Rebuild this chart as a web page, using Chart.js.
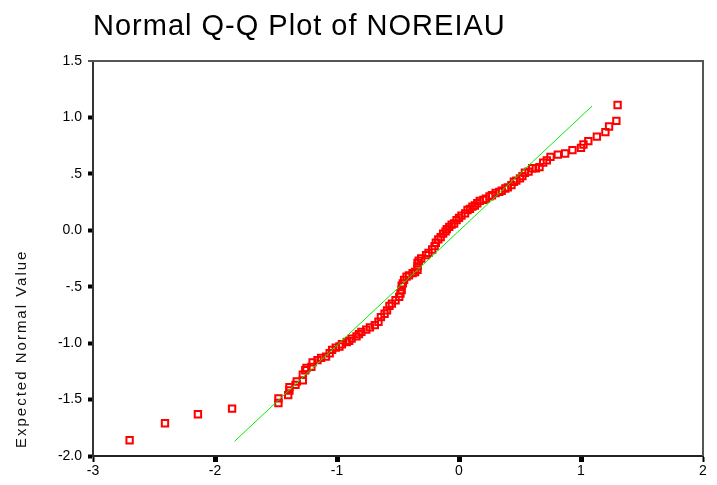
<!DOCTYPE html>
<html>
<head>
<meta charset="utf-8">
<script src="https://cdn.jsdelivr.net/npm/chart.js@4.4.0/dist/chart.umd.min.js"></script>
<style>
  html, body { margin: 0; padding: 0; background: #fff; }
</style>
</head>
<body>
<canvas id="qq" width="717" height="485"></canvas>
<script>
var obsX = [-2.70, -2.41, -2.14, -1.86, -1.48, -1.48, -1.40, -1.39, -1.39, -1.34,
            -1.33, -1.28, -1.28, -1.26, -1.25, -1.21, -1.20, -1.16, -1.13, -1.09,
            -1.06, -1.04, -1.01, -0.98, -0.96, -0.92, -0.90, -0.88, -0.84, -0.82,
            -0.80, -0.76, -0.73, -0.69, -0.66, -0.64, -0.61, -0.59, -0.57, -0.55,
            -0.52, -0.49, -0.48, -0.47, -0.47, -0.46, -0.45, -0.43, -0.41, -0.38,
            -0.36, -0.34, -0.34, -0.34, -0.33, -0.31, -0.27, -0.25, -0.22, -0.20,
            -0.19, -0.17, -0.15, -0.13, -0.11, -0.10, -0.08, -0.06, -0.04, -0.02,
             0.00,  0.02,  0.05,  0.07,  0.09,  0.11,  0.13,  0.15,  0.17,  0.20,
             0.22,  0.25,  0.27,  0.30,  0.33,  0.35,  0.38,  0.40,  0.43,  0.45,
             0.47,  0.50,  0.52,  0.54,  0.57,  0.60,  0.63,  0.66,  0.69,  0.72,
             0.75,  0.81,  0.87,  0.93,  1.00,  1.02,  1.06,  1.13,  1.20,  1.23,
             1.29,  1.30];
var expY = [-1.86, -1.71, -1.63, -1.58, -1.53, -1.49, -1.46, -1.42, -1.39, -1.37,
            -1.34, -1.33, -1.28, -1.24, -1.22, -1.21, -1.17, -1.15, -1.13, -1.12,
            -1.09, -1.06, -1.04, -1.03, -1.01, -0.99, -0.98, -0.96, -0.94, -0.92,
            -0.90, -0.88, -0.86, -0.84, -0.81, -0.77, -0.74, -0.71, -0.67, -0.65,
            -0.62, -0.59, -0.56, -0.53, -0.49, -0.47, -0.44, -0.41, -0.40, -0.38,
            -0.37, -0.35, -0.32, -0.29, -0.27, -0.25, -0.22, -0.20, -0.17, -0.14,
            -0.11, -0.08, -0.06, -0.03, -0.01,  0.01,  0.03,  0.05,  0.06,  0.09,
             0.11,  0.13,  0.15,  0.18,  0.19,  0.21,  0.22,  0.24,  0.26,  0.27,
             0.28,  0.30,  0.31,  0.33,  0.34,  0.35,  0.37,  0.38,  0.40,  0.43,
             0.44,  0.46,  0.48,  0.51,  0.52,  0.55,  0.55,  0.56,  0.60,  0.62,
             0.65,  0.67,  0.68,  0.71,  0.73,  0.76,  0.79,  0.83,  0.87,  0.92,
             0.97,  1.11];

// reference line ends
var fitX = [-1.84, 1.09];
var fitY = [-1.87, 1.10];

var yTickValues = [1.5, 1.0, 0.5, 0.0, -0.5, -1.0, -1.5, -2.0];
var yTickLabels = ['1.5', '1.0', '.5', '0.0', '-.5', '-1.0', '-1.5', '-2.0'];

var titleText = 'Normal Q-Q Plot of NOREIAU';
var yTitleText = 'Expected Normal Value';
var fontFamily = '"Liberation Sans", Arial, Helvetica, sans-serif';

var points = obsX.map(function (v, i) { return { x: v, y: expY[i] }; });
var fitLine = fitX.map(function (v, i) { return { x: v, y: fitY[i] }; });

function yLabel(value) {
    for (var i = 0; i < yTickValues.length; i++) {
        if (Math.abs(yTickValues[i] - value) < 1e-6) return yTickLabels[i];
    }
    return '';
}

// frame, title and the rotated y title
var qqDecor = {
    id: 'qqDecor',
    afterDraw: function (chart) {
        var ctx = chart.ctx, a = chart.chartArea;
        ctx.save();
        ctx.strokeStyle = '#555';
        ctx.lineWidth = 2;
        ctx.beginPath();
        ctx.moveTo(a.left - 5, a.top);
        ctx.lineTo(a.right, a.top);
        ctx.lineTo(a.right, a.bottom);
        ctx.stroke();

        ctx.fillStyle = '#000';
        ctx.font = '29px ' + fontFamily;
        ctx.letterSpacing = '1px';
        ctx.textAlign = 'left';
        ctx.textBaseline = 'alphabetic';
        ctx.fillText(titleText, a.left, 35);

        ctx.font = '15px ' + fontFamily;
        ctx.letterSpacing = '2px';
        ctx.fillStyle = '#111';
        ctx.translate(22, 448);
        ctx.rotate(-Math.PI / 2);
        ctx.textBaseline = 'middle';
        ctx.fillText(yTitleText, 0, 0);
        ctx.restore();
    }
};

var ctx = document.getElementById('qq').getContext('2d');
var qqChart = new Chart(ctx, {
    type: 'scatter',
    data: {
        datasets: [
            {
                type: 'line',
                data: fitLine,
                borderColor: '#00ee00',
                borderWidth: 1,
                pointRadius: 0,
                fill: false
            },
            {
                data: points,
                pointStyle: 'rect',
                pointRadius: 4.5,
                borderWidth: 2,
                borderColor: '#ff0000',
                backgroundColor: 'rgba(0,0,0,0)'
            }
        ]
    },
    options: {
        responsive: false,
        animation: false,
        layout: { padding: { top: 61, right: 14, left: 0, bottom: 0 } },
        plugins: {
            legend: { display: false },
            tooltip: { enabled: false },
            title: { display: false }
        },
        scales: {
            x: {
                type: 'linear',
                min: -3,
                max: 2,
                ticks: {
                    stepSize: 1,
                    color: '#000',
                    font: { family: fontFamily, size: 14 },
                    padding: 1,
                    maxRotation: 0,
                    autoSkip: false
                },
                grid: {
                    drawOnChartArea: false,
                    tickLength: 6,
                    tickColor: '#000',
                    tickWidth: function (c) {
                        return (c.tick && (c.tick.value === -3 || c.tick.value === 2)) ? 2 : 5;
                    }
                },
                border: { color: '#222', width: 2 },
                afterFit: function (s) { s.height = 29; }
            },
            y: {
                type: 'linear',
                min: -2,
                max: 1.5,
                ticks: {
                    stepSize: 0.5,
                    color: '#000',
                    font: { family: fontFamily, size: 14 },
                    padding: 6,
                    autoSkip: false,
                    callback: function (value) { return yLabel(value); }
                },
                grid: {
                    drawOnChartArea: false,
                    tickLength: 5,
                    tickColor: '#000',
                    tickWidth: function (c) {
                        return (c.tick && c.tick.value === 1.5) ? 0 : 4;
                    }
                },
                border: { color: '#333', width: 2 },
                afterFit: function (s) { s.width = 93; }
            }
        }
    },
    plugins: [qqDecor]
});
</script>
</body>
</html>
